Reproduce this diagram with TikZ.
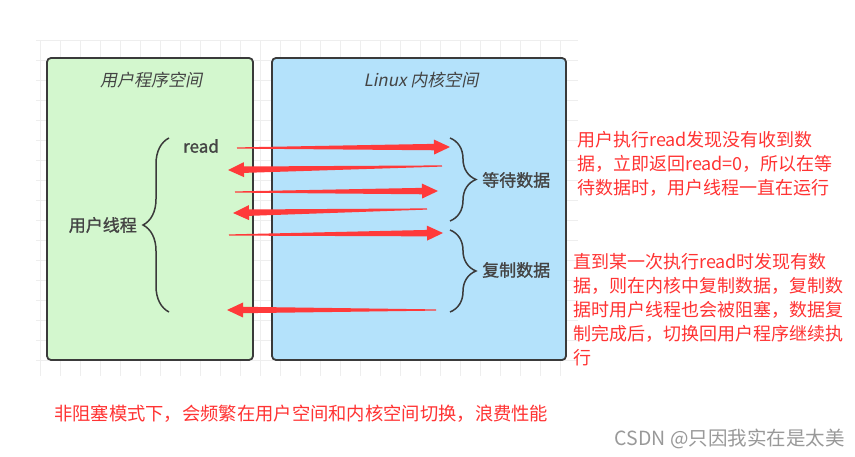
\documentclass[tikz,border=0pt]{standalone}
\usepackage{fontspec}
\setmainfont{Noto Sans CJK SC}
\newfontfamily\cjk{Noto Sans CJK SC}
\newfontfamily\cjkit{Noto Sans CJK SC}[FakeSlant=0.2]
\newfontfamily\cjkb{Noto Sans CJK SC}[FakeBold=1.2]
\usetikzlibrary{calc,decorations.pathreplacing}
\definecolor{boxgreen}{HTML}{D3F7CE}
\definecolor{boxblue}{HTML}{B4E2FB}
\definecolor{edgec}{HTML}{3A3A3A}
\definecolor{arrowred}{HTML}{FF3A3A}
\definecolor{txtred}{HTML}{FF3333}
\definecolor{labc}{HTML}{444444}
\definecolor{gridc}{HTML}{EEEEEE}
\newcommand\taperarrow[2]{%
  \path ($(#2)!16pt!(#1)$) coordinate (hb);
  \fill[arrowred] ($(#1)!0.6pt!90:(#2)$) -- ($(hb)!3.2pt!90:(#2)$) -- ($(hb)!7.5pt!90:(#2)$) -- (#2)
    -- ($(hb)!7.5pt!-90:(#2)$) -- ($(hb)!3.2pt!-90:(#2)$) -- ($(#1)!0.6pt!-90:(#2)$) -- cycle;
}
\tikzset{
  box/.style={draw=edgec, line width=1.8pt, rounded corners=4pt, inner sep=0pt},
  titletext/.style={font=\cjkit\fontsize{17}{20}\selectfont, text=labc, inner sep=0pt},
  labtext/.style={font=\cjkb\fontsize{17}{20}\selectfont, text=labc, inner sep=0pt},
  redtext/.style={font=\cjk\fontsize{18}{24}\selectfont, text=txtred, align=left, inner sep=0pt},
  bracedraw/.style={draw=edgec, line width=1.5pt, decorate, decoration={brace, amplitude=26pt}},
}
\begin{document}
\begin{tikzpicture}[x=1pt,y=-1pt]
\useasboundingbox[fill=white] (0,0) rectangle (855,457);
\draw[gridc, line width=0.6pt, step=20pt] (36,40) grid (578,376);
\node[box, fill=boxgreen, minimum width=206pt, minimum height=302pt] (userbox) at (150,209) {};
\node[box, fill=boxblue, minimum width=294pt, minimum height=302pt] (kernbox) at (419,209) {};
\node[titletext] (usertitle) at (151,80) {用户程序空间};
\node[titletext] (kerntitle) at (421,80) {Linux 内核空间};
\draw[bracedraw] (169,312) -- (169,138);
\draw[bracedraw] (450,138) -- (450,221);
\draw[bracedraw] (450,230) -- (450,312);
\node[labtext, anchor=east] (thread) at (137,225) {用户线程};
\node[labtext] (read) at (201,146) {read};
\node[labtext, anchor=west] (wait) at (482,180) {等待数据};
\node[labtext, anchor=west] (copy) at (482,270) {复制数据};
\coordinate (a1s) at (237,148); \coordinate (a1e) at (450,147);
\coordinate (a2s) at (442,166); \coordinate (a2e) at (228,170);
\coordinate (a3s) at (235,192); \coordinate (a3e) at (438,191);
\coordinate (a4s) at (427,209); \coordinate (a4e) at (233,213);
\coordinate (a5s) at (229,235); \coordinate (a5e) at (443,233);
\coordinate (a6s) at (436,310); \coordinate (a6e) at (227,310);
\taperarrow{a1s}{a1e}
\taperarrow{a2s}{a2e}
\taperarrow{a3s}{a3e}
\taperarrow{a4s}{a4e}
\taperarrow{a5s}{a5e}
\taperarrow{a6s}{a6e}
\node[redtext, anchor=west] (note1) at (577,164) {用户执行read发现没有收到数\\据，立即返回read=0，所以在等\\待数据时，用户线程一直在运行};
\node[redtext, anchor=west] (note2) at (573,310) {直到某一次执行read时发现有数\\据，则在内核中复制数据，复制数\\据时用户线程也会被阻塞，数据复\\制完成后，切换回用户程序继续执\\行};
\node[font=\cjk\fontsize{18.3}{22}\selectfont, text=txtred, anchor=west, inner sep=0pt] (summary) at (54,414) {非阻塞模式下，会频繁在用户空间和内核空间切换，浪费性能};
\node[font=\cjk\fontsize{19.5}{22}\selectfont, text=black!40, anchor=east, inner sep=0pt] (mark) at (845,439) {CSDN @只因我实在是太美};
\end{tikzpicture}
\end{document}
